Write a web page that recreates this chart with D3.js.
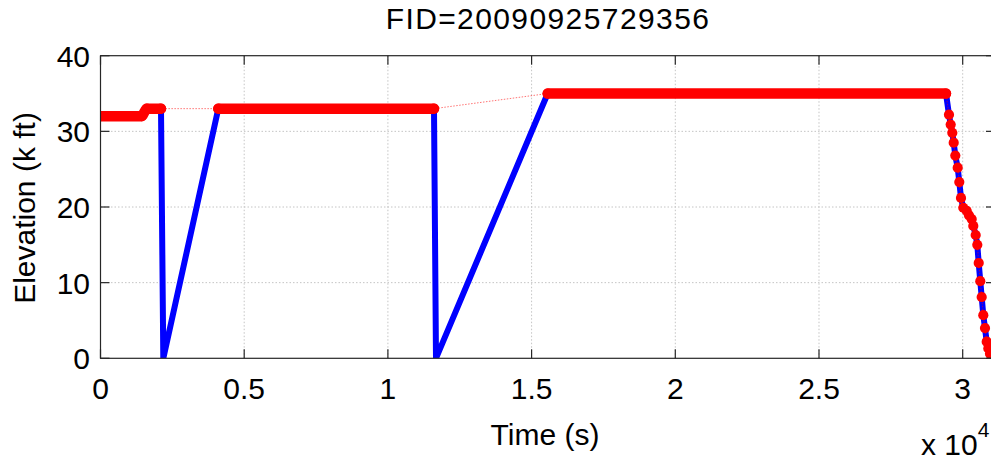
<!DOCTYPE html>
<html>
<head>
<meta charset="utf-8">
<script src="https://cdn.jsdelivr.net/npm/d3@7"></script>
<style>
  html, body { margin: 0; padding: 0; background: #fff; }
  svg { display: block; }
  text { font-family: "Liberation Sans", Arial, Helvetica, sans-serif; fill: #000; }
</style>
</head>
<body>
<svg id="chart" width="991" height="459"></svg>
<script>
// ---------- data ----------
const title = "FID=20090925729356";
const xTicks = [0, 5000, 10000, 15000, 20000, 25000, 30000];
const xTickLabels = ["0", "0.5", "1", "1.5", "2", "2.5", "3"];
const yTicks = [0, 10, 20, 30, 40];
const yTickLabels = ["0", "10", "20", "30", "40"];

// full recorded track (blue), elevation in k ft; zeros are drop-outs
const blueTime = [0, 1434, 1607, 2105, 2185, 4099, 11604, 11673, 15560, 29419,
  29523, 29582, 29638, 29687, 29743, 29826, 29882, 29941, 30021, 30139, 30219,
  30313, 30369, 30452, 30508, 30557, 30612, 30661, 30717, 30776, 30835, 30891, 30950];
const blueElev = [32, 32, 33, 33, 0, 33, 33, 0, 35, 35,
  32.2, 30.9, 29.8, 28.5, 26.8, 25.2, 23.3, 21.2, 19.9, 19.5, 18.9,
  18.4, 17.5, 16.3, 15.0, 12.6, 10.2, 8.1, 5.7, 4.0, 2.2, 1.3, 0.6];

// valid samples (red)
const redTime = [0, 1434, 1607, 2105, 4099, 11604, 15560, 29419,
  29523, 29582, 29638, 29687, 29743, 29826, 29882, 29941, 30021, 30139, 30219,
  30313, 30369, 30452, 30508, 30557, 30612, 30661, 30717, 30776, 30835, 30891, 30950];
const redElev = [32, 32, 33, 33, 33, 33, 35, 35,
  32.2, 30.9, 29.8, 28.5, 26.8, 25.2, 23.3, 21.2, 19.9, 19.5, 18.9,
  18.4, 17.5, 16.3, 15.0, 12.6, 10.2, 8.1, 5.7, 4.0, 2.2, 1.3, 0.6];
// time ranges where samples are densely spaced (markers merge into a band)
const denseRunStart = [0, 4099, 15560];
const denseRunEnd = [2105, 11604, 29419];

// ---------- layout ----------
const svg = d3.select("#chart");
const L = 100.5, R = 995, T = 55.7, B = 358.3;
const x = d3.scaleLinear().domain([0, 31124]).range([L, R]);
const y = d3.scaleLinear().domain([0, 40]).range([B, T]);
const axisColor = "#262626";
const tickLen = 9;

svg.append("defs").append("clipPath").attr("id", "clip")
  .append("rect").attr("x", L).attr("y", T - 10).attr("width", R - L).attr("height", B - T + 10);

// grid
const grid = svg.append("g");
xTicks.slice(1).forEach(t => {
  grid.append("line").attr("x1", x(t)).attr("x2", x(t)).attr("y1", T).attr("y2", B)
    .attr("stroke", "#c4c4c4").attr("stroke-width", 1).attr("stroke-dasharray", "1.5,2");
});
yTicks.slice(1, -1).forEach(v => {
  grid.append("line").attr("x1", L).attr("x2", R).attr("y1", y(v)).attr("y2", y(v))
    .attr("stroke", "#c4c4c4").attr("stroke-width", 1).attr("stroke-dasharray", "1.5,2");
});

const plot = svg.append("g").attr("clip-path", "url(#clip)");

// blue track
const blueData = blueTime.map((t, i) => [t, blueElev[i]]);
plot.append("path").datum(blueData)
  .attr("d", d3.line().x(d => x(d[0])).y(d => y(d[1])))
  .attr("fill", "none").attr("stroke", "#0000ff").attr("stroke-width", 6)
  .attr("stroke-linejoin", "round").attr("stroke-linecap", "butt");

// red thin dotted connector
const redData = redTime.map((t, i) => [t, redElev[i]]);
plot.append("path").datum(redData)
  .attr("d", d3.line().x(d => x(d[0])).y(d => y(d[1])))
  .attr("fill", "none").attr("stroke", "#ff0000").attr("stroke-opacity", 0.55)
  .attr("stroke-width", 1).attr("stroke-dasharray", "1.5,1.5");

// dense bands
denseRunStart.forEach((s, k) => {
  const e = denseRunEnd[k];
  const pts = redData.filter(d => d[0] >= s && d[0] <= e);
  plot.append("path").datum(pts)
    .attr("d", d3.line().curve(d3.curveMonotoneX).x(d => x(d[0])).y(d => y(d[1])))
    .attr("fill", "none").attr("stroke", "#ff0000").attr("stroke-width", 10.5)
    .attr("stroke-linecap", "round").attr("stroke-linejoin", "round");
});

// markers
plot.selectAll("circle.m").data(redData).enter().append("circle")
  .attr("class", "m").attr("cx", d => x(d[0])).attr("cy", d => y(d[1]))
  .attr("r", 5.1).attr("fill", "#ff0000");

// frame
svg.append("rect").attr("x", L).attr("y", T).attr("width", R - L).attr("height", B - T)
  .attr("fill", "none").attr("stroke", axisColor).attr("stroke-width", 1.2);

// ticks
xTicks.forEach(t => {
  svg.append("line").attr("x1", x(t)).attr("x2", x(t)).attr("y1", B).attr("y2", B - tickLen)
    .attr("stroke", axisColor).attr("stroke-width", 1.2);
  svg.append("line").attr("x1", x(t)).attr("x2", x(t)).attr("y1", T).attr("y2", T + tickLen)
    .attr("stroke", axisColor).attr("stroke-width", 1.2);
});
yTicks.forEach(v => {
  svg.append("line").attr("x1", L).attr("x2", L + tickLen).attr("y1", y(v)).attr("y2", y(v))
    .attr("stroke", axisColor).attr("stroke-width", 1.2);
  svg.append("line").attr("x1", R).attr("x2", R - tickLen).attr("y1", y(v)).attr("y2", y(v))
    .attr("stroke", axisColor).attr("stroke-width", 1.2);
});

// tick labels
const fs = 30;
xTicks.forEach((t, i) => {
  svg.append("text").attr("x", x(t)).attr("y", 399).attr("text-anchor", "middle")
    .attr("font-size", fs).text(xTickLabels[i]);
});
yTicks.forEach((v, i) => {
  svg.append("text").attr("x", 90).attr("y", y(v) + 11).attr("text-anchor", "end")
    .attr("font-size", fs).text(yTickLabels[i]);
});

// titles
svg.append("text").attr("x", 548).attr("y", 29).attr("text-anchor", "middle")
  .attr("font-size", fs).attr("letter-spacing", 1.4).text(title);
svg.append("text").attr("x", 545).attr("y", 445).attr("text-anchor", "middle")
  .attr("font-size", fs).text("Time (s)");
svg.append("text").attr("transform", "translate(35,208) rotate(-90)")
  .attr("text-anchor", "middle").attr("font-size", fs).text("Elevation (k ft)");
const ex = svg.append("text").attr("x", 921).attr("y", 455).attr("font-size", fs);
ex.append("tspan").text("x 10");
ex.append("tspan").attr("font-size", 21).attr("dy", -18).text("4");
</script>
</body>
</html>
